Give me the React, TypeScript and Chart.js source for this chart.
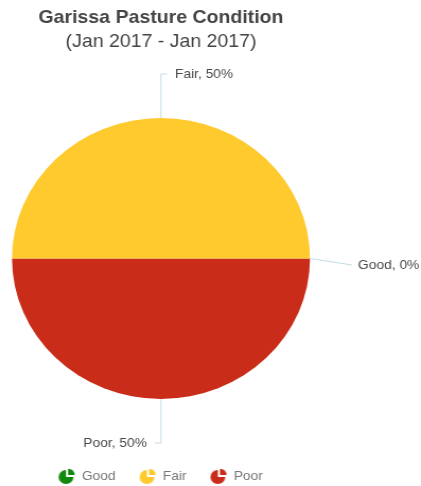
import React, { useEffect, useRef } from "react";
import { Chart, registerables } from "chart.js";

Chart.register(...registerables);

// ---- data ----
const titleText = "Garissa Pasture Condition";
const subtitleText = "(Jan 2017 - Jan 2017)";
const categories = ["Good", "Fair", "Poor"];
const percentages = [0, 50, 50];
const sliceColors = ["#11890F", "#FFCA2E", "#C92C18"];

// ---- style ----
const FONT = "'Liberation Sans', Arial, Helvetica, sans-serif";
const SCREEN_W = 421;
const SCREEN_H = 486;
const STRETCH = 1.0605; // reference is horizontally stretched
const LOGICAL_W = Math.round(SCREEN_W / STRETCH);
const LINE_COLOR = "#C3DCE4";
const LABEL_COLOR = "#4a4a4a";

// slices are drawn clockwise from 3 o'clock; reverse so Fair sits on top
const order = categories.map((_, i) => i).reverse();

function makeIcon(color: string): HTMLCanvasElement {
  const c = document.createElement("canvas");
  c.width = 18;
  c.height = 18;
  const g = c.getContext("2d")!;
  g.fillStyle = color;
  const cx = 8, cy = 10, r = 7;
  g.beginPath();
  g.moveTo(cx, cy);
  g.arc(cx, cy, r, 0, 1.5 * Math.PI);
  g.closePath();
  g.fill();
  const ox = cx + 2, oy = cy - 2;
  g.beginPath();
  g.moveTo(ox, oy);
  g.arc(ox, oy, r - 0.8, 1.5 * Math.PI, 2 * Math.PI);
  g.closePath();
  g.fill();
  return c;
}

const sliceLabels = {
  id: "sliceLabels",
  afterDatasetsDraw(chart: any) {
    const meta = chart.getDatasetMeta(0);
    const ctx = chart.ctx as CanvasRenderingContext2D;
    ctx.save();
    ctx.font = `13px ${FONT}`;
    ctx.textBaseline = "middle";
    ctx.strokeStyle = LINE_COLOR;
    ctx.lineWidth = 1;
    ctx.fillStyle = LABEL_COLOR;
    meta.data.forEach((arc: any, i: number) => {
      const idx = order[i];
      const { x, y, startAngle, endAngle, outerRadius } = arc.getProps(
        ["x", "y", "startAngle", "endAngle", "outerRadius"],
        true
      );
      const mid = (startAngle + endAngle) / 2;
      const c = Math.cos(mid);
      const s = Math.sin(mid);
      const ex = x + outerRadius * c;
      const ey = y + outerRadius * s;
      const text = `${categories[idx]}, ${percentages[idx]}%`;
      ctx.beginPath();
      ctx.moveTo(ex, ey);
      if (Math.abs(c) > 0.7) {
        const dir = c > 0 ? 1 : -1;
        const lx = ex + 39.6 * dir;
        const ly = ey + 6.5;
        ctx.lineTo(lx, ly);
        ctx.stroke();
        ctx.textAlign = dir > 0 ? "left" : "right";
        ctx.fillText(text, lx + 5.7 * dir, ly);
      } else {
        const dir = c > 1e-6 ? 1 : c < -1e-6 ? -1 : s < 0 ? 1 : -1;
        const vy = ey + 44 * (s < 0 ? -1 : 1);
        const hx = ex + 5.7 * dir;
        ctx.lineTo(ex, vy);
        ctx.lineTo(hx, vy);
        ctx.stroke();
        ctx.textAlign = dir > 0 ? "left" : "right";
        ctx.fillText(text, hx + 7.5 * dir, vy);
      }
    });
    ctx.restore();
  },
};

export default function App() {
  const ref = useRef<HTMLCanvasElement>(null);
  useEffect(() => {
    const icons = sliceColors.map(makeIcon);
    const chart = new Chart(ref.current!, {
      type: "pie",
      data: {
        labels: order.map((i) => categories[i]),
        datasets: [
          {
            data: order.map((i) => percentages[i]),
            backgroundColor: order.map((i) => sliceColors[i]),
            borderWidth: 0,
            radius: 140.5,
          } as any,
        ],
      },
      options: {
        responsive: false,
        animation: false,
        devicePixelRatio: 1,
        rotation: 90,
        layout: { padding: { left: 0, right: 93.4, top: 0, bottom: 0 } },
        plugins: {
          tooltip: { enabled: false },
          title: {
            display: true,
            text: titleText,
            color: "#444",
            font: { family: FONT, size: 18.4, weight: "bold" },
            padding: { top: 6.5, bottom: 0 },
          },
          subtitle: {
            display: true,
            text: subtitleText,
            color: "#444",
            font: { family: FONT, size: 18.4, weight: "normal" },
            padding: { top: 2.2, bottom: 17.6 },
          },
          legend: {
            position: "bottom",
            maxHeight: 39.5,
            labels: {
              usePointStyle: true,
              pointStyleWidth: 15,
              padding: 23,
              color: "#777",
              font: { family: FONT, size: 13 },
              generateLabels: () =>
                categories.map((cat, i) => ({
                  text: cat,
                  fillStyle: sliceColors[i],
                  strokeStyle: sliceColors[i],
                  lineWidth: 0,
                  hidden: false,
                  index: order.indexOf(i),
                  pointStyle: icons[i],
                  fontColor: "#777",
                })),
            },
          },
        },
      },
      plugins: [sliceLabels],
    });
    return () => chart.destroy();
  }, []);
  return (
    <div style={{ position: "fixed", left: 0, top: 0, width: SCREEN_W, height: SCREEN_H, background: "#fff" }}>
      <canvas
        ref={ref}
        width={LOGICAL_W}
        height={SCREEN_H}
        style={{ width: `${SCREEN_W}px`, height: `${SCREEN_H}px`, display: "block" }}
      />
    </div>
  );
}
